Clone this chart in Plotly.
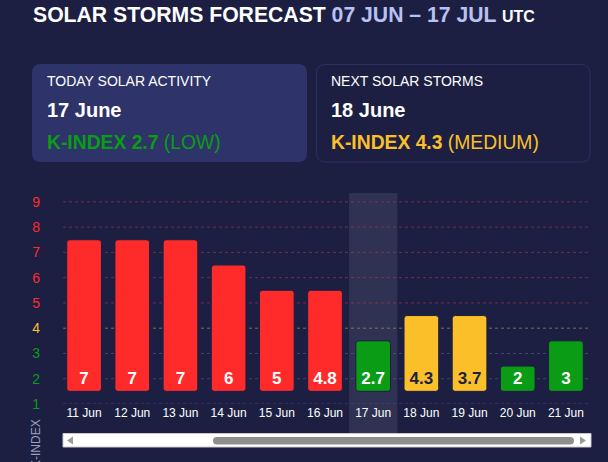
import plotly.graph_objects as go

# ---- data ----
dates = ["11 Jun", "12 Jun", "13 Jun", "14 Jun", "15 Jun", "16 Jun",
         "17 Jun", "18 Jun", "19 Jun", "20 Jun", "21 Jun"]
k_index = [7, 7, 7, 6, 5, 4.8, 2.7, 4.3, 3.7, 2, 3]
y_ticks = [1, 2, 3, 4, 5, 6, 7, 8, 9]
today_label = "17 Jun"

title_main = "SOLAR STORMS FORECAST"
title_range = "07 JUN – 17 JUL"
title_tz = "UTC"
card1 = ("TODAY SOLAR ACTIVITY", "17 June", "K-INDEX 2.7", "(LOW)")
card2 = ("NEXT SOLAR STORMS", "18 June", "K-INDEX 4.3", "(MEDIUM)")

# ---- style ----
BG = "#1c1f42"
RED = "#ff2b2b"
GOLD = "#fbbf2a"
GREEN = "#0a9c14"
FONT = "Liberation Sans, Arial, sans-serif"
W, H = 608, 462
ML, MR, MT, MB = 60, 18, 193, 58
PW, PH = W - ML - MR, H - MT - MB


def px(x):
    return (x - ML) / PW


def py(y):
    return (H - MB - y) / PH


def level_color(v):
    r = round(v)
    if r >= 5:
        return RED
    if r == 4:
        return GOLD
    return GREEN


def grid_color(v):
    if v >= 5:
        return "rgba(200,50,80,0.55)"
    if v == 4:
        return "rgba(190,160,70,0.6)"
    return "rgba(90,95,150,0.6)"


def rrect(x0, y0, x1, y1, r):
    # rounded rect path in paper coords from pixel coords
    X0, X1 = px(x0), px(x1)
    Y0, Y1 = py(y0), py(y1)
    rx, ry = r / PW, r / PH
    return (f"M {X0+rx},{Y0} L {X1-rx},{Y0} Q {X1},{Y0} {X1},{Y0-ry} "
            f"L {X1},{Y1+ry} Q {X1},{Y1} {X1-rx},{Y1} L {X0+rx},{Y1} "
            f"Q {X0},{Y1} {X0},{Y1+ry} L {X0},{Y0-ry} Q {X0},{Y0} {X0+rx},{Y0} Z")


base = 1.5
bar_len = [round(v) + 0.5 - base for v in k_index]
bar_colors = [level_color(v) for v in k_index]
text_colors = [BG if level_color(v) == GOLD else "white" for v in k_index]
labels = [f"{v:g}" for v in k_index]

fig = go.Figure()
fig.add_trace(go.Bar(
    x=dates, y=bar_len, base=base, width=0.72,
    marker=dict(color=bar_colors, line=dict(color=BG, width=1), cornerradius=3),
    text=labels, textposition="inside", insidetextanchor="start", textangle=0,
    textfont=dict(color=text_colors, size=17, family=FONT, weight="bold"),
    hoverinfo="skip",
))

shapes = []
ti = dates.index(today_label)
shapes.append(dict(type="rect", xref="x", yref="paper", x0=ti - 0.5, x1=ti + 0.5,
                   y0=py(435), y1=1, fillcolor="rgba(255,255,255,0.085)",
                   line=dict(width=0), layer="below"))
for v in y_ticks:
    shapes.append(dict(type="line", xref="paper", yref="y", x0=px(63), x1=1, y0=v, y1=v,
                       line=dict(color=grid_color(v), width=1, dash="dot"), layer="below"))

# cards
shapes.append(dict(type="path", xref="paper", yref="paper", path=rrect(32, 64, 307, 162, 9),
                   fillcolor="#2e3469", line=dict(width=0), layer="below"))
shapes.append(dict(type="path", xref="paper", yref="paper", path=rrect(316.5, 64.5, 590, 162, 9),
                   fillcolor=BG, line=dict(color="#2c3163", width=1), layer="below"))
# scrollbar
shapes.append(dict(type="rect", xref="paper", yref="paper", x0=px(63), x1=px(591),
                   y0=py(447), y1=py(433.5), fillcolor="white",
                   line=dict(color="#c8c8d0", width=1), layer="above"))
shapes.append(dict(type="path", xref="paper", yref="paper", path=rrect(213, 437, 574, 444.5, 3.7),
                   fillcolor="#8e8e8e", line=dict(width=0), layer="above"))
shapes.append(dict(type="path", xref="paper", yref="paper",
                   path=f"M {px(73)},{py(436.5)} L {px(67)},{py(440.5)} L {px(73)},{py(444.5)} Z",
                   fillcolor="#9a9a9a", line=dict(width=0), layer="above"))
shapes.append(dict(type="path", xref="paper", yref="paper",
                   path=f"M {px(580)},{py(436.5)} L {px(586)},{py(440.5)} L {px(580)},{py(444.5)} Z",
                   fillcolor="#9a9a9a", line=dict(width=0), layer="above"))

ann = []


def add_text(x, y, text, size, color="white", anchor="left", angle=0):
    ann.append(dict(xref="paper", yref="paper", x=px(x), y=py(y), text=text,
                    showarrow=False, xanchor=anchor, yanchor="middle", textangle=angle,
                    font=dict(size=size, color=color, family=FONT)))


add_text(31, 14, f"<b>{title_main} <span style='color:#b9c1f3'>{title_range}</span> "
                 f"<span style='font-size:16px'>{title_tz}</span></b>", 21.2)
for (x0, card, col) in [(45, card1, GREEN), (329, card2, GOLD)]:
    add_text(x0, 81, card[0], 14)
    add_text(x0, 110, f"<b>{card[1]}</b>", 20)
    add_text(x0, 142, f"<span style='color:{col}'><b>{card[2]}</b> {card[3]}</span>", 19.3)
add_text(36, 444, "K-INDEX", 12, color="#9aa0bd", anchor="center", angle=-90)

tick_text = [f"<span style='color:{level_color(v)}'>{v}</span>" for v in y_ticks]

fig.update_layout(
    width=W, height=H, margin=dict(l=ML, r=MR, t=MT, b=MB),
    paper_bgcolor=BG, plot_bgcolor=BG, showlegend=False,
    font=dict(family=FONT, color="white"),
    shapes=shapes, annotations=ann,
    xaxis=dict(type="category", range=[-0.5, len(dates) - 0.5], showgrid=False,
               zeroline=False, showline=False, ticks="",
               tickfont=dict(size=12, color="white", family=FONT)),
    yaxis=dict(range=[1, 9.35], tickvals=y_ticks, ticktext=tick_text, showgrid=False,
               zeroline=False, showline=False, ticks="", ticklabelstandoff=19,
               tickfont=dict(size=14, family=FONT)),
)

fig.write_html("out.html")
